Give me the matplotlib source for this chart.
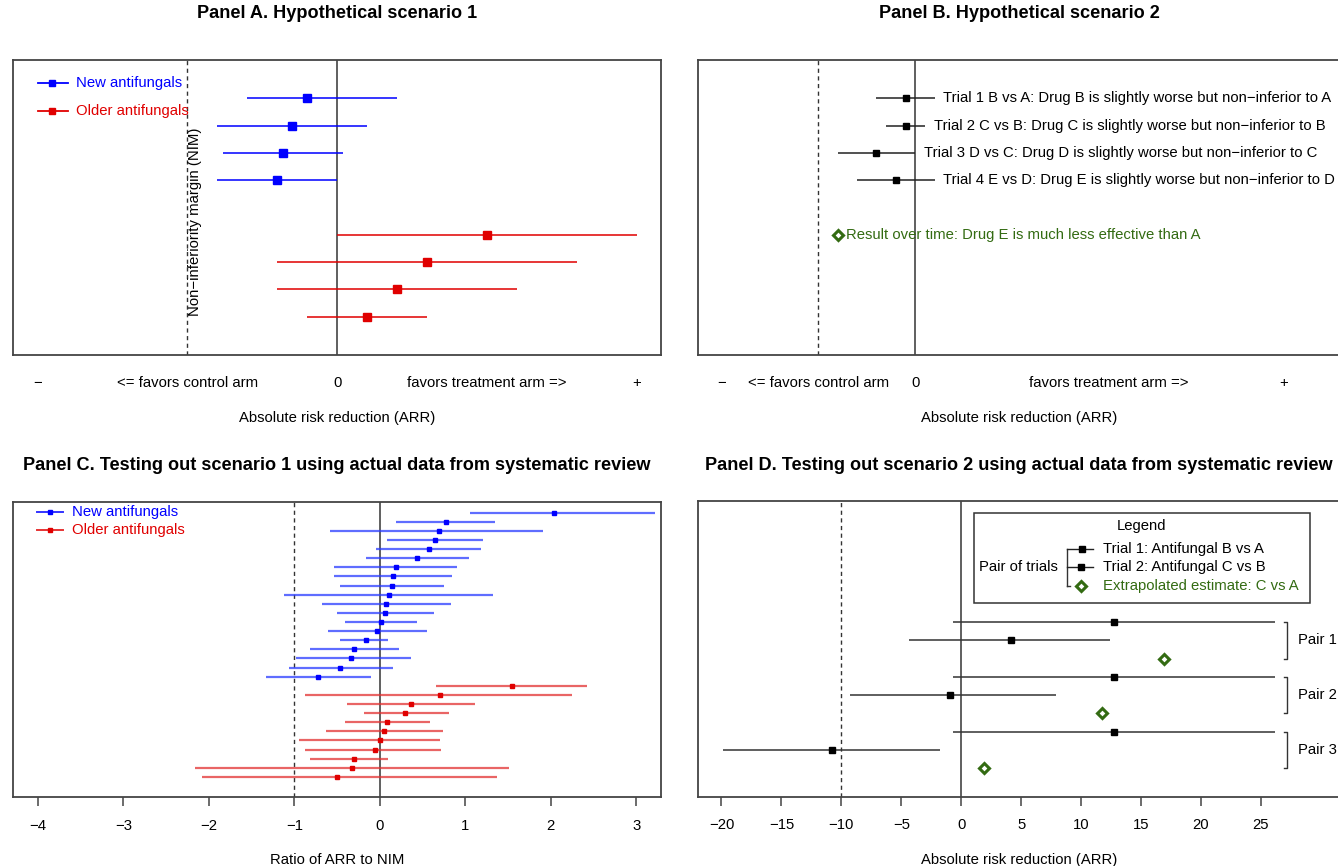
import numpy as np
import matplotlib
matplotlib.use("Agg")
import matplotlib.pyplot as plt
from matplotlib.lines import Line2D
from matplotlib.patches import Rectangle

plt.rcParams['font.family'] = ['Liberation Sans', 'DejaVu Sans']

W, H = 1338, 866
FS = 10.7
TFS = 13.1
BLUE = '#0000ff'
RED = '#e00000'
GREEN = '#336b12'
DARK = '#444444'

# ---- Panel A: hypothetical scenario 1 (ARR, arbitrary units) ----
a_rows_new = [9, 8, 7, 6]
a_new_est = [-0.10, -0.15, -0.18, -0.20]
a_new_lo = [-0.30, -0.40, -0.38, -0.40]
a_new_hi = [0.20, 0.10, 0.02, 0.00]
a_rows_old = [4, 3, 2, 1]
a_old_est = [0.50, 0.30, 0.20, 0.10]
a_old_lo = [0.00, -0.20, -0.20, -0.10]
a_old_hi = [1.00, 0.80, 0.60, 0.30]
nim_a = -0.5

# ---- Panel B: hypothetical scenario 2 ----
b_rows = [9, 8, 7, 6]
b_labels = ["Trial 1 B vs A: Drug B is slightly worse but non\u2212inferior to A",
            "Trial 2 C vs B: Drug C is slightly worse but non\u2212inferior to B",
            "Trial 3 D vs C: Drug D is slightly worse but non\u2212inferior to C",
            "Trial 4 E vs D: Drug E is slightly worse but non\u2212inferior to D"]
b_est = [-0.05, -0.05, -0.20, -0.10]
b_lo = [-0.20, -0.15, -0.40, -0.30]
b_hi = [0.10, 0.05, 0.00, 0.10]
b_result_row = 4
b_result = -0.40
b_result_label = "Result over time: Drug E is much less effective than A"

# ---- Panel C: ratio of ARR to NIM from systematic review ----
c_new_est = [2.04, 0.77, 0.69, 0.65, 0.58, 0.44, 0.19, 0.16, 0.14, 0.11,
             0.07, 0.06, 0.01, -0.03, -0.16, -0.30, -0.34, -0.46, -0.72]
c_new_lo = [1.05, 0.19, -0.58, 0.09, -0.04, -0.16, -0.53, -0.53, -0.47, -1.12,
            -0.67, -0.50, -0.41, -0.60, -0.47, -0.82, -0.98, -1.06, -1.33]
c_new_hi = [3.22, 1.35, 1.91, 1.21, 1.19, 1.04, 0.90, 0.85, 0.75, 1.33,
            0.83, 0.63, 0.43, 0.55, 0.10, 0.23, 0.36, 0.16, -0.10]
c_old_est = [1.55, 0.71, 0.36, 0.29, 0.09, 0.05, 0.00, -0.05, -0.30, -0.33, -0.50]
c_old_lo = [0.66, -0.87, -0.38, -0.19, -0.41, -0.63, -0.94, -0.87, -0.81, -2.16, -2.08]
c_old_hi = [2.43, 2.25, 1.12, 0.81, 0.59, 0.74, 0.71, 0.72, 0.10, 1.51, 1.37]
c_ticks = [-4, -3, -2, -1, 0, 1, 2, 3]

# ---- Panel D: pairs of trials (ARR, %) ----
d_pairs = ["Pair 1", "Pair 2", "Pair 3"]
d_t1_est = [12.74, 12.74, 12.74]
d_t1_lo = [-0.68, -0.68, -0.68]
d_t1_hi = [26.15, 26.15, 26.15]
d_t2_est = [4.15, -0.96, -10.77]
d_t2_lo = [-4.34, -9.28, -19.85]
d_t2_hi = [12.40, 7.88, -1.75]
d_extrap = [16.89, 11.73, 1.94]
d_ticks = [-20, -15, -10, -5, 0, 5, 10, 15, 20, 25]
nim_d = -10

fig = plt.figure(figsize=(W / 100, H / 100), dpi=100)


def box(l, t, r, b):
    ax = fig.add_axes([l / W, 1 - b / H, (r - l) / W, (b - t) / H])
    for s in ax.spines.values():
        s.set_color(DARK)
        s.set_linewidth(1.3)
    return ax


def fig_line(xs, ys, **kw):
    fig.add_artist(Line2D([x / W for x in xs], [1 - y / H for y in ys],
                          transform=fig.transFigure, **kw))


def fig_text(x, y, s, **kw):
    fig.text(x / W, 1 - y / H, s, fontsize=kw.pop('fontsize', FS), **kw)


def ref_lines(ax, nim):
    ax.axvline(0, color=DARK, lw=1.2, zorder=1)
    ax.axvline(nim, color='#333333', lw=1.0, ls=(0, (3, 2.5)), zorder=1)


def arrow_labels(ax, plus_x, treat_x):
    y = -0.094
    tr = ax.get_xaxis_transform()
    for x, s in [(-1, "\u2212"), (-0.5, "<= favors control arm"), (0, "0"),
                 (treat_x, "favors treatment arm =>"), (plus_x, "+")]:
        ax.text(x, y, s, transform=tr, ha='center', va='center', fontsize=FS)
    ax.text(0.5, -0.214, "Absolute risk reduction (ARR)", transform=ax.transAxes,
            ha='center', va='center', fontsize=FS)


# ---------------- Panel A ----------------
ax = box(13, 60, 661, 355)
ax.set_xlim(-1.082, 1.081)
ax.set_ylim(-0.4, 10.4)
ax.set_xticks([])
ax.set_yticks([])
ref_lines(ax, nim_a)
ax.hlines(a_rows_new, a_new_lo, a_new_hi, color=BLUE, lw=1.3, alpha=0.85)
ax.plot(a_new_est, a_rows_new, 's', color=BLUE, ms=5.3, ls='none')
ax.hlines(a_rows_old, a_old_lo, a_old_hi, color=RED, lw=1.3, alpha=0.85)
ax.plot(a_old_est, a_rows_old, 's', color=RED, ms=5.3, ls='none')
ax.text(nim_a + 0.024, 4.47, "Non\u2212inferiority margin (NIM)", rotation=90,
        ha='center', va='center', fontsize=FS)
arrow_labels(ax, 1, 0.5)
for y, c, s in [(83.3, BLUE, "New antifungals"), (111, RED, "Older antifungals")]:
    fig_line([37.6, 67.5], [y, y], color=c, lw=1.3)
    fig_line([52], [y], color=c, marker='s', ms=5, ls='none')
    fig_text(76, y, s, color=c, ha='left', va='center')
fig_text(337, 14, "Panel A. Hypothetical scenario 1", fontsize=TFS,
         fontweight='bold', ha='center', va='center')

# ---------------- Panel B ----------------
ax = box(698, 60, 1340, 355)
ax.set_xlim(-1.12, 2.19)
ax.set_ylim(-0.4, 10.4)
ax.set_xticks([])
ax.set_yticks([])
ref_lines(ax, -0.5)
ax.hlines(b_rows, b_lo, b_hi, color='#222222', lw=1.1)
ax.plot(b_est, b_rows, 's', color='black', ms=4.3, ls='none')
for lab, hi, r in zip(b_labels, b_hi, b_rows):
    ax.annotate(lab, (hi, r), xytext=(6.3, 0), textcoords='offset points',
                ha='left', va='center', fontsize=FS)
ax.plot([b_result], [b_result_row], 'D', mfc='white', mec=GREEN, mew=2.2,
        ms=5.0, ls='none')
ax.annotate(b_result_label, (b_result, b_result_row), xytext=(6.3, 0),
            textcoords='offset points', ha='left', va='center',
            fontsize=FS, color=GREEN)
arrow_labels(ax, 1.9, 1.0)
fig_text(1019, 14, "Panel B. Hypothetical scenario 2", fontsize=TFS,
         fontweight='bold', ha='center', va='center')

# ---------------- Panel C ----------------
ax = box(13, 501.7, 661, 797)
ax.set_xlim(-4.29, 3.29)
ax.set_ylim(-1.2, 31.2)
ax.set_yticks([])
ax.set_xticks(c_ticks)
ax.set_xticklabels([f"{t}".replace('-', '\u2212') for t in c_ticks])
ax.tick_params(axis='x', length=6.5, width=1.1, color=DARK, pad=9,
               labelsize=FS)
ref_lines(ax, -1)
n_new, n_old = len(c_new_est), len(c_old_est)
rows_all = np.arange(n_new + n_old, 0, -1)
rows_new, rows_old = rows_all[:n_new], rows_all[n_new:]
ax.hlines(rows_new, c_new_lo, c_new_hi, color='#2a3cff', lw=1.6, alpha=0.75)
ax.plot(c_new_est, rows_new, 's', color=BLUE, ms=3.0, ls='none')
ax.hlines(rows_old, c_old_lo, c_old_hi, color='#e23232', lw=1.6, alpha=0.75)
ax.plot(c_old_est, rows_old, 's', color=RED, ms=3.0, ls='none')
ax.text(0.5, (797 - 860) / 295.3, "Ratio of ARR to NIM", transform=ax.transAxes,
        ha='center', va='center', fontsize=FS)
for y, c, s in [(512.3, BLUE, "New antifungals"), (530, RED, "Older antifungals")]:
    fig_line([36.7, 63.3], [y, y], color=c, lw=1.4, alpha=0.8)
    fig_line([50], [y], color=c, marker='s', ms=2.8, ls='none')
    fig_text(72, y, s, color=c, ha='left', va='center')
fig_text(337, 466, "Panel C. Testing out scenario 1 using actual data from systematic review",
         fontsize=TFS, fontweight='bold', ha='center', va='center')

# ---------------- Panel D ----------------
ax = box(698, 501, 1340, 796.5)
ax.set_xlim(-21.96, 31.6)
ax.set_ylim(-0.55, 15.63)
ax.set_yticks([])
ax.set_xticks(d_ticks)
ax.set_xticklabels([f"{t}".replace('-', '\u2212') for t in d_ticks])
ax.tick_params(axis='x', length=6.5, width=1.1, color=DARK, pad=9,
               labelsize=FS)
ref_lines(ax, nim_d)
n_p = len(d_pairs)
r_t1 = np.array([9 - 3 * k for k in range(n_p)])
r_t2 = r_t1 - 1
r_ex = r_t1 - 2
ax.hlines(r_t1, d_t1_lo, d_t1_hi, color='#333333', lw=1.1)
ax.plot(d_t1_est, r_t1, 's', color='black', ms=4.7, ls='none')
ax.hlines(r_t2, d_t2_lo, d_t2_hi, color='#333333', lw=1.1)
ax.plot(d_t2_est, r_t2, 's', color='black', ms=4.7, ls='none')
ax.plot(d_extrap, r_ex, 'D', mfc='white', mec=GREEN, mew=2.2, ms=5.0, ls='none')
bx = 27.14
for lab, top, bot, mid in zip(d_pairs, r_t1, r_ex, r_t2):
    ax.plot([bx - 0.25, bx, bx, bx - 0.25], [top, top, bot, bot],
            color='#333333', lw=1.0)
    ax.text(bx + 0.95, mid, lab, ha='left', va='center', fontsize=FS)
ax.text(0.5, (796.5 - 860) / 295.5, "Absolute risk reduction (ARR)",
        transform=ax.transAxes, ha='center', va='center', fontsize=FS)

# legend box
fig.add_artist(Rectangle((973.5 / W, 1 - 603.3 / H), (1310 - 973.5) / W,
                         (603.3 - 512.7) / H, transform=fig.transFigure,
                         fill=False, ec='#333333', lw=1.1))
fig_text(1141, 526, "Legend", ha='center', va='center')
fig_line([1067, 1067], [549.3, 585.7], color='#333333', lw=1.0)
fig_line([1067, 1093], [549.3, 549.3], color='#222222', lw=1.0)
fig_line([1067, 1093], [566.7, 566.7], color='#222222', lw=1.0)
fig_line([1067, 1070], [585.7, 585.7], color='#333333', lw=1.0)
fig_line([1082], [549.3], color='black', marker='s', ms=4.2, ls='none')
fig_line([1081], [566.7], color='black', marker='s', ms=4.2, ls='none')
fig_line([1081], [585.7], marker='D', mfc='white', mec=GREEN, mew=2.2,
         ms=4.8, ls='none')
fig_text(1103, 549.3, "Trial 1: Antifungal B vs A", ha='left', va='center')
fig_text(1103, 566.7, "Trial 2: Antifungal C vs B", ha='left', va='center')
fig_text(1103, 585.7, "Extrapolated estimate: C vs A", ha='left', va='center',
         color=GREEN)
fig_text(1058, 566.7, "Pair of trials", ha='right', va='center')
fig_text(1019, 466, "Panel D. Testing out scenario 2 using actual data from systematic review",
         fontsize=TFS, fontweight='bold', ha='center', va='center')

fig.savefig("out.png", dpi=100)
